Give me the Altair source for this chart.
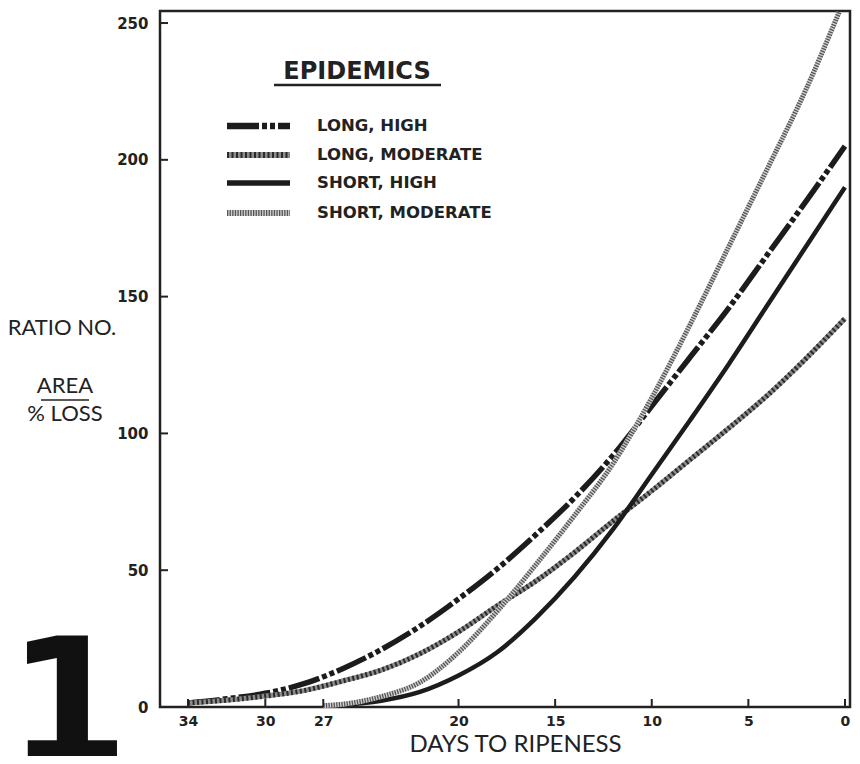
import altair as alt
import pandas as pd

# ---- data ----
days_long = [34, 32, 30, 28, 26, 24, 22, 20, 18, 16, 14, 12, 10, 8, 6, 4, 2, 0]
long_high = [1.5, 3, 5, 8.5, 14, 21, 29.5, 39.5, 50.5, 63, 76.5, 92, 110, 128, 146, 165.5, 185, 205]
long_moderate = [1.5, 2.5, 4, 6, 9.5, 13.5, 19.5, 27.5, 37, 46, 56.5, 68, 79, 90.5, 102, 114, 127.5, 142]

days_short_high = [27, 26, 24, 22, 20, 18, 16, 14, 12, 10, 8, 6, 4, 2, 0]
short_high = [0.5, 0.8, 2.3, 5.5, 11.5, 20, 32.5, 47.5, 65, 85, 105, 125.5, 147, 168.5, 190]

days_short_mod = [27, 26, 24, 22, 20, 18, 16, 14, 12, 10, 8, 6, 4, 2, 0.3]
short_moderate = [0.5, 1, 3.8, 9, 20, 35, 52, 70, 89, 113, 140, 168.5, 197, 226, 254]

series_names = ["LONG, HIGH", "LONG, MODERATE", "SHORT, HIGH", "SHORT, MODERATE"]
x_ticks = [34, 30, 27, 20, 15, 10, 5, 0]
y_ticks = [0, 50, 100, 150, 200, 250]

W, H = 690, 696
xs = alt.Scale(domain=[35.45, -0.26], nice=False, zero=False)
ys = alt.Scale(domain=[0, 254.4], nice=False, zero=False)

# styles: list of stroke layers (color, width, dash)
styles = {
    "LONG, HIGH": [("#1c1c1c", 5.5, [32, 3, 5, 3, 5, 3])],
    "LONG, MODERATE": [("#8c8c8c", 5, None), ("#2a2a2a", 5, [2, 2.5])],
    "SHORT, HIGH": [("#1c1c1c", 4.5, None)],
    "SHORT, MODERATE": [("#d0d0d0", 5, None), ("#555555", 5, [1.3, 1.3])],
}
series_data = {
    "LONG, HIGH": (days_long, long_high),
    "LONG, MODERATE": (days_long, long_moderate),
    "SHORT, HIGH": (days_short_high, short_high),
    "SHORT, MODERATE": (days_short_mod, short_moderate),
}

layers = []
legend_rows_y = [115, 144, 172, 202]

for i, name in enumerate(series_names):
    d, v = series_data[name]
    df = pd.DataFrame({"day": d, "value": v, "series": name})
    for color, width, dash in styles[name]:
        kw = dict(color=color, strokeWidth=width, interpolate="monotone", strokeCap="butt")
        if dash:
            kw["strokeDash"] = dash
        layers.append(
            alt.Chart(df).mark_line(**kw).encode(
                x=alt.X("day:Q", scale=xs,
                        axis=alt.Axis(values=x_ticks, title="DAYS TO RIPENESS", ticks=False,
                                      domain=False, grid=False, labelFont="DejaVu Sans",
                                      labelFontWeight="bold", labelFontSize=14, labelColor="#222",
                                      labelPadding=7, titleFont="Lato", titleFontSize=24,
                                      titleFontWeight="normal", titleColor="#222",
                                      titleX=355, titleY=37, titleBaseline="middle")),
                y=alt.Y("value:Q", scale=ys,
                        axis=alt.Axis(values=y_ticks, title="", ticks=False, domain=False,
                                      grid=False, labelFont="DejaVu Sans", labelFontWeight="bold",
                                      labelFontSize=15, labelColor="#222", labelPadding=12)),
            )
        )
        # legend sample
        ldf = pd.DataFrame({"series": [name]})
        rkw = dict(color=color, strokeWidth=width + 1, strokeCap="butt")
        if dash:
            rkw["strokeDash"] = dash
        layers.append(
            alt.Chart(ldf).mark_rule(**rkw).encode(
                x=alt.value(67), x2=alt.value(130), y=alt.value(legend_rows_y[i])
            )
        )
    layers.append(
        alt.Chart(pd.DataFrame({"series": [name]})).mark_text(
            align="left", baseline="middle", font="DejaVu Sans", fontWeight="bold",
            fontSize=16.5, color="#222"
        ).encode(text="series:N", x=alt.value(157), y=alt.value(legend_rows_y[i]))
    )

# tick marks (inward)
ytick_df = pd.DataFrame({"value": y_ticks})
layers.append(alt.Chart(ytick_df).mark_rule(color="#222", strokeWidth=2).encode(
    y=alt.Y("value:Q", scale=ys), x=alt.value(0), x2=alt.value(8)))
xtick_df = pd.DataFrame({"day": x_ticks})
layers.append(alt.Chart(xtick_df).mark_rule(color="#222", strokeWidth=2).encode(
    x=alt.X("day:Q", scale=xs), y=alt.value(H), y2=alt.value(H - 8)))

# legend title
layers.append(alt.Chart(pd.DataFrame({"t": ["EPIDEMICS"]})).mark_text(
    align="center", baseline="middle", font="DejaVu Sans", fontWeight="bold",
    fontSize=24, color="#222").encode(text="t:N", x=alt.value(197), y=alt.value(61)))
layers.append(alt.Chart(pd.DataFrame({"t": ["EPIDEMICS"]})).mark_rule(
    color="#222", strokeWidth=2.5).encode(x=alt.value(114), x2=alt.value(281), y=alt.value(74)))

# y-axis label block
ylab = [("RATIO NO.", -98, 317), ("AREA", -95, 375), ("% LOSS", -95, 403)]
for t, x, y in ylab:
    layers.append(alt.Chart(pd.DataFrame({"t": [t]})).mark_text(
        align="center", baseline="middle", font="Lato", fontSize=22, color="#222"
    ).encode(text="t:N", x=alt.value(x), y=alt.value(y)))
layers.append(alt.Chart(pd.DataFrame({"t": ["line"]})).mark_rule(
    color="#222", strokeWidth=1.5).encode(x=alt.value(-119), x2=alt.value(-71), y=alt.value(389)))

# big figure number
layers.append(alt.Chart(pd.DataFrame({"t": ["1"]})).mark_text(
    align="center", baseline="alphabetic", font="DejaVu Sans", fontWeight="bold",
    fontSize=175, color="#111").encode(text="t:N", x=alt.value(-92), y=alt.value(752)))

chart = alt.layer(*layers).properties(
    width=W, height=H,
    autosize=alt.AutoSizeParams(type="none"),
    padding={"left": 152, "top": 3, "right": 2, "bottom": 49},
).configure_view(stroke="#222", strokeWidth=2.5)

chart.save("out.html", embed_options={"renderer": "svg", "actions": False})
